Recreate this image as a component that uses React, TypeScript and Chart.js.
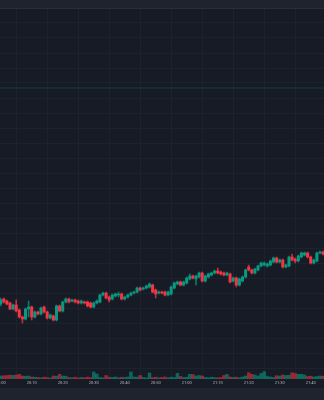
import { useEffect, useRef } from "react";
import { Chart, registerables } from "chart.js";

Chart.register(...registerables);

const timeLabels = ["20:00", "20:10", "20:20", "20:30", "20:40", "20:50", "21:00", "21:10", "21:20", "21:30", "21:40"];

const opens = [
  94, 99, 97, 95, 89, 93, 88, 81, 79, 89, 91, 81, 86, 84, 91, 86, 80, 82, 78, 92,
  87, 96, 99, 97, 98, 97, 95, 96, 96, 95, 91, 95, 96, 103, 105, 101, 99, 102, 103, 104,
  99, 101, 103, 105, 106, 110, 109, 110, 111, 113, 108, 105, 106, 106, 103, 104, 110, 114, 116, 113,
  115, 119, 122, 119, 121, 125, 117, 121, 123, 125, 127, 126, 125, 123, 124, 117, 120, 113, 117, 121,
  131, 128, 125, 128, 132, 133, 132, 133, 136, 140, 136, 138, 131, 132, 141, 139, 137, 141, 143, 145,
  141, 135, 137, 145, 146,
];
const closes = [
  98, 96, 94, 89, 93, 87, 81, 79, 89, 91, 81, 86, 84, 90, 86, 80, 83, 78, 92, 87,
  96, 99, 96, 98, 96, 95, 97, 95, 92, 91, 95, 97, 103, 105, 100, 98, 103, 104, 104, 99,
  101, 103, 105, 106, 110, 108, 110, 112, 114, 106, 104, 106, 105, 103, 106, 111, 115, 116, 113, 116,
  120, 122, 120, 122, 125, 117, 122, 124, 125, 127, 125, 124, 123, 125, 116, 120, 113, 119, 121, 128,
  128, 125, 129, 132, 135, 135, 134, 137, 140, 136, 138, 131, 133, 141, 138, 137, 142, 145, 145, 141,
  135, 138, 145, 146, 144,
];
const highs = [
  100, 100, 98, 96, 94, 98, 89, 82, 90, 97, 92, 87, 87, 91, 92, 87, 84, 83, 93, 93,
  97, 100, 100, 99, 99, 98, 98, 97, 97, 96, 96, 98, 104, 106, 106, 102, 104, 105, 106, 105,
  102, 104, 106, 107, 111, 111, 111, 113, 115, 114, 109, 107, 107, 107, 107, 112, 116, 117, 117, 117,
  121, 124, 123, 123, 126, 126, 123, 125, 126, 128, 130, 127, 126, 126, 125, 121, 121, 120, 122, 129,
  133, 129, 130, 133, 136, 136, 135, 138, 141, 141, 139, 139, 134, 142, 144, 140, 143, 146, 146, 146,
  142, 139, 146, 147, 147,
];
const lows = [
  92, 95, 93, 88, 88, 86, 80, 75, 78, 81, 78, 80, 83, 83, 85, 79, 79, 77, 77, 86,
  86, 95, 95, 96, 95, 94, 94, 94, 91, 90, 90, 94, 95, 102, 99, 96, 98, 101, 101, 98,
  98, 100, 102, 104, 105, 107, 108, 109, 110, 105, 100, 104, 104, 102, 102, 103, 109, 113, 112, 112,
  114, 118, 119, 113, 120, 116, 116, 120, 122, 124, 124, 123, 122, 122, 115, 116, 111, 112, 116, 120,
  127, 124, 124, 127, 131, 132, 131, 132, 135, 135, 135, 130, 130, 131, 137, 135, 136, 140, 142, 140,
  134, 134, 136, 144, 143,
];
const volumes = [
  30, 32, 35, 38, 36, 40, 47, 30, 28, 30, 20, 18, 15, 12, 18, 14, 10, 30, 28, 47,
  30, 28, 15, 12, 18, 10, 15, 12, 18, 14, 70, 50, 15, 12, 35, 18, 15, 20, 12, 18,
  15, 20, 70, 20, 18, 35, 15, 12, 60, 15, 18, 12, 15, 20, 12, 18, 15, 57, 25, 15,
  18, 47, 45, 30, 35, 30, 15, 12, 18, 14, 12, 15, 35, 47, 20, 15, 18, 12, 20, 30,
  63, 47, 40, 30, 55, 73, 25, 20, 15, 33, 30, 40, 35, 38, 63, 55, 47, 47, 40, 25,
  28, 20, 25, 30, 28,
];
const priceLineLevel = 310;

const GREEN = "#089981";
const RED = "#f23645";
const GREEN_WICK = "rgba(8,153,129,0.75)";
const RED_WICK = "rgba(242,54,69,0.75)";
const GREEN_VOL = "rgba(8,153,129,0.6)";
const RED_VOL = "rgba(242,54,69,0.55)";
const GRID = "#1e222c";

export default function App() {
  const ref = useRef<HTMLCanvasElement>(null);

  useEffect(() => {
    document.body.style.margin = "0";
    const idx = opens.map((_, i) => i);
    const up = idx.map((i) => closes[i] >= opens[i]);
    const chart = new Chart(ref.current!, {
      type: "bar",
      data: {
        datasets: [
          {
            type: "bar",
            label: "body",
            data: idx.map((i) => ({ x: i, y: [opens[i], closes[i]] })) as any,
            backgroundColor: idx.map((i) => (up[i] ? GREEN : RED)),
            borderWidth: 0,
            barThickness: 2.4,
            grouped: false,
            order: 0,
            yAxisID: "y",
          } as any,
          {
            type: "bar",
            label: "wick",
            data: idx.map((i) => ({ x: i, y: [lows[i], highs[i]] })) as any,
            backgroundColor: idx.map((i) => (up[i] ? GREEN_WICK : RED_WICK)),
            borderWidth: 0,
            barThickness: 1,
            grouped: false,
            order: 1,
            yAxisID: "y",
          } as any,
          {
            type: "bar",
            label: "volume",
            data: idx.map((i) => ({ x: i, y: volumes[i] })) as any,
            backgroundColor: idx.map((i) => (up[i] ? GREEN_VOL : RED_VOL)),
            borderWidth: 0,
            barThickness: 2.8,
            grouped: false,
            order: 2,
            yAxisID: "yv",
          } as any,
          {
            type: "line",
            label: "level",
            data: [
              { x: -5, y: priceLineLevel },
              { x: 110, y: priceLineLevel },
            ],
            borderColor: "rgba(8,153,129,0.3)",
            borderWidth: 1,
            pointRadius: 0,
            order: 3,
            yAxisID: "y",
          } as any,
        ],
      },
      options: {
        animation: false,
        responsive: true,
        maintainAspectRatio: false,
        layout: { padding: 0 },
        plugins: { legend: { display: false }, tooltip: { enabled: false } },
        scales: {
          x: {
            type: "linear",
            min: -0.226,
            max: 104.29,
            offset: false,
            grid: { color: GRID, drawTicks: false },
            border: { display: false },
            ticks: {
              stepSize: 10,
              includeBounds: false,
              autoSkip: false,
              maxRotation: 0,
              padding: 2,
              color: "#b2b5be",
              font: { size: 4, family: "Roboto" },
              callback: (v: any) => timeLabels[Math.round(Number(v) / 10)] ?? "",
            },
            afterFit: (s: any) => {
              s.height = 9;
              s.paddingLeft = 0;
              s.paddingRight = 0;
            },
          },
          y: {
            type: "linear",
            position: "right",
            min: 19,
            max: 389,
            grid: { color: GRID, drawTicks: false },
            border: { display: false },
            ticks: { display: false, stepSize: 15, includeBounds: false },
            afterFit: (s: any) => {
              s.width = 0;
            },
          },
          yv: {
            type: "linear",
            display: false,
            min: 0,
            max: 3700,
          },
        },
      } as any,
    });
    return () => chart.destroy();
  }, []);

  return (
    <div style={{ width: 324, height: 400, background: "#171b25", overflow: "hidden" }}>
      <div style={{ height: 8, background: "#1f232e", borderBottom: "1px solid #2a2e39" }} />
      <div style={{ position: "relative", width: 324, height: 379 }}>
        <canvas ref={ref} />
      </div>
      <div style={{ height: 12, background: "#1f232e" }} />
    </div>
  );
}
